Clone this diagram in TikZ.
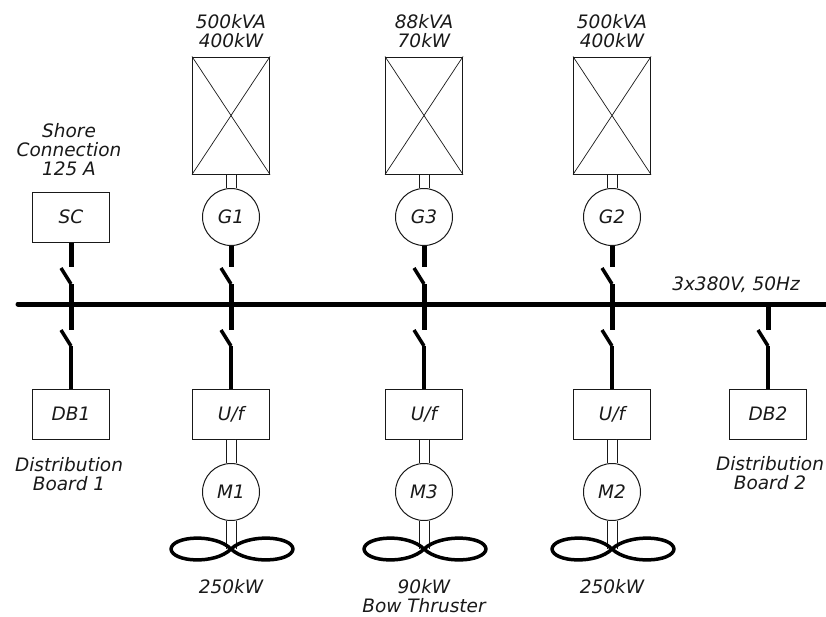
\documentclass[tikz,border=0pt]{standalone}
\usepackage{fontspec}
\setmainfont{DejaVu Sans}
\usetikzlibrary{positioning}
\definecolor{myline}{RGB}{25,25,25}
\tikzstyle{label}=[font=\fontsize{18.5}{19}\selectfont\itshape,align=center,inner sep=0pt,text=myline]
\tikzstyle{smallbox}=[draw=myline,line width=1pt,minimum width=77pt,minimum height=50pt,inner sep=0pt,font=\fontsize{18.5}{19}\selectfont\itshape,text=myline]
\tikzstyle{genbox}=[draw=myline,line width=1pt,minimum width=77pt,minimum height=117pt,inner sep=0pt]
\tikzstyle{machine}=[draw=myline,line width=1pt,circle,minimum size=57pt,inner sep=0pt,font=\fontsize{18.5}{19}\selectfont\itshape,text=myline]
\tikzstyle{bus}=[line width=5pt,line cap=round]
\tikzstyle{feeder}=[line width=5pt,line join=round]
\tikzstyle{shaft}=[draw=myline,line width=1pt,double=white,double distance=9pt]
\tikzstyle{cross}=[draw=myline,line width=0.7pt]
\tikzstyle{blade}=[line width=3.5pt,line join=round]
\begin{document}
\begin{tikzpicture}[x=1pt,y=-1pt]
\useasboundingbox (0,0) rectangle (826,616);
% bus bar
\coordinate (busl) at (18,304);
\coordinate (busr) at (826,304);
\node [label] (bustext) at (736,285) {3x380V, 50Hz};
% upper row
\node [smallbox] (sc) at (71,217) {SC};
\node [machine] (g1) at (231,217) {G1};
\node [machine] (g3) at (424,217) {G3};
\node [machine] (g2) at (612,217) {G2};
\node [genbox] (d1) at (231,115.5) {};
\node [genbox] (d3) at (424,115.5) {};
\node [genbox] (d2) at (612,115.5) {};
\draw [cross] (d1.north west) -- (d1.south east);
\draw [cross] (d1.north east) -- (d1.south west);
\draw [cross] (d3.north west) -- (d3.south east);
\draw [cross] (d3.north east) -- (d3.south west);
\draw [cross] (d2.north west) -- (d2.south east);
\draw [cross] (d2.north east) -- (d2.south west);
% lower row
\node [smallbox] (db1) at (71,414) {DB1};
\node [smallbox] (u1) at (231,414) {U/f};
\node [smallbox] (u3) at (424,414) {U/f};
\node [smallbox] (u2) at (612,414) {U/f};
\node [smallbox] (db2) at (768,414) {DB2};
\node [machine] (m1) at (231,492) {M1};
\node [machine] (m3) at (424,492) {M3};
\node [machine] (m2) at (612,492) {M2};
% propeller hubs
\coordinate (p1) at (231,549);
\coordinate (p3) at (424,549);
\coordinate (p2) at (612,549);
% shafts
\draw [shaft] (d1) -- (g1);
\draw [shaft] (d3) -- (g3);
\draw [shaft] (d2) -- (g2);
\draw [shaft] (u1) -- (m1);
\draw [shaft] (u3) -- (m3);
\draw [shaft] (u2) -- (m2);
\draw [shaft] (m1) -- (p1);
\draw [shaft] (m3) -- (p3);
\draw [shaft] (m2) -- (p2);
% propellers
\draw [blade] (p1) .. controls (215,533) and (172,536) .. (171,549) .. controls (172,562) and (215,565) .. (p1) .. controls (248,533) and (292,536) .. (293,549) .. controls (292,562) and (248,565) .. (p1);
\draw [blade] (p3) .. controls (408,533) and (365,536) .. (364,549) .. controls (365,562) and (408,565) .. (p3) .. controls (441,533) and (485,536) .. (486,549) .. controls (485,562) and (441,565) .. (p3);
\draw [blade] (p2) .. controls (596,533) and (553,536) .. (552,549) .. controls (553,562) and (596,565) .. (p2) .. controls (629,533) and (673,536) .. (674,549) .. controls (673,562) and (629,565) .. (p2);
% switches, column SC
\coordinate (a1) at (71,267);
\coordinate (b1) at (61,268);
\coordinate (c1) at (71,284);
\coordinate (d0) at (71,330);
\coordinate (e1) at (61,330);
\coordinate (f1) at (71,346);
\draw [feeder] (sc) -- (a1);
\draw [blade] (b1) -- (c1);
\draw [feeder] (c1) -- (d0);
\draw [blade] (e1) -- (f1);
\draw [blade] (f1) -- (db1);
% switches, column 1
\coordinate (a2) at (231,267);
\coordinate (b2) at (221,268);
\coordinate (c2) at (231,284);
\coordinate (d4) at (231,330);
\coordinate (e2) at (221,330);
\coordinate (f2) at (231,346);
\draw [feeder] (g1) -- (a2);
\draw [blade] (b2) -- (c2);
\draw [feeder] (c2) -- (d4);
\draw [blade] (e2) -- (f2);
\draw [blade] (f2) -- (u1);
% switches, column 3
\coordinate (a3) at (424,267);
\coordinate (b3) at (414,268);
\coordinate (c3) at (424,284);
\coordinate (d5) at (424,330);
\coordinate (e3) at (414,330);
\coordinate (f3) at (424,346);
\draw [feeder] (g3) -- (a3);
\draw [blade] (b3) -- (c3);
\draw [feeder] (c3) -- (d5);
\draw [blade] (e3) -- (f3);
\draw [blade] (f3) -- (u3);
% switches, column 2
\coordinate (a4) at (612,267);
\coordinate (b4) at (602,268);
\coordinate (c4) at (612,284);
\coordinate (d6) at (612,330);
\coordinate (e4) at (602,330);
\coordinate (f4) at (612,346);
\draw [feeder] (g2) -- (a4);
\draw [blade] (b4) -- (c4);
\draw [feeder] (c4) -- (d6);
\draw [blade] (e4) -- (f4);
\draw [blade] (f4) -- (u2);
% switch, DB2
\coordinate (a5) at (768,304);
\coordinate (d7) at (768,330);
\coordinate (e5) at (758,330);
\coordinate (f5) at (768,346);
\draw [feeder] (a5) -- (d7);
\draw [blade] (e5) -- (f5);
\draw [blade] (f5) -- (db2);
\draw [bus] (busl) -- (busr);
% texts
\node [label] (t1) at (231,31) {500kVA\\400kW};
\node [label] (t3) at (424,31) {88kVA\\70kW};
\node [label] (t2) at (612,31) {500kVA\\400kW};
\node [label] (shore) at (69,150) {Shore\\Connection\\125 A};
\node [label] (dbt1) at (69,474) {Distribution\\Board 1};
\node [label] (dbt2) at (770,473) {Distribution\\Board 2};
\node [label] (k1) at (231,587) {250kW};
\node [label] (k3) at (424,596) {90kW\\Bow Thruster};
\node [label] (k2) at (612,587) {250kW};
\end{tikzpicture}
\end{document}
